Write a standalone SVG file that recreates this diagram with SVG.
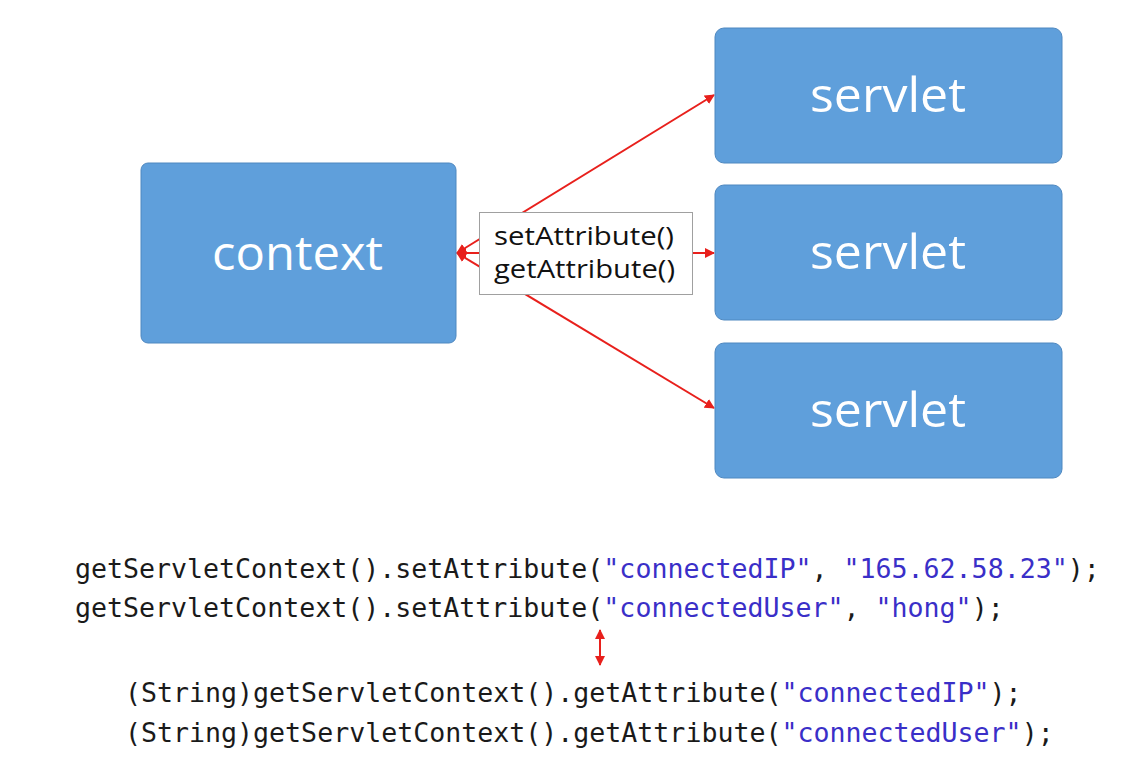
<svg xmlns="http://www.w3.org/2000/svg" width="1124" height="774" viewBox="0 0 1124 774">
<style>
.box{fill:#5f9fdb;stroke:#4f88c0;stroke-width:1}
.nt{font-family:"Open Sans","Noto Sans",sans-serif;font-size:47px;fill:#ffffff}
.lbl{font-family:"Open Sans","Noto Sans",sans-serif;font-size:25px;fill:#111}
.code{font-family:"DejaVu Sans Mono","Liberation Mono",monospace;font-size:26.6px;fill:#1a1a1a}
.s{fill:#3a2fc8}
.ln{stroke:#e8201c;stroke-width:2;fill:none}
</style>
<defs>
<marker id="ah" viewBox="0 0 10 10" refX="9" refY="5" markerWidth="5" markerHeight="5" orient="auto-start-reverse">
<path d="M0,0 L10,5 L0,10 z" fill="#e8201c"/>
</marker>
</defs>
<rect width="1124" height="774" fill="#ffffff"/>
<g id="connectors">
<line class="ln" x1="457" y1="253" x2="714" y2="95" marker-start="url(#ah)" marker-end="url(#ah)"/>
<line class="ln" x1="457" y1="253" x2="714" y2="253" marker-start="url(#ah)" marker-end="url(#ah)"/>
<line class="ln" x1="457" y1="253" x2="714" y2="408" marker-start="url(#ah)" marker-end="url(#ah)"/>
<line class="ln" x1="600" y1="630" x2="600" y2="665" stroke-width="2.5" marker-start="url(#ah)" marker-end="url(#ah)"/>
</g>
<g id="context">
<rect class="box" x="141" y="163" width="315" height="180" rx="7"/>
<text class="nt" x="212" y="270" textLength="171" lengthAdjust="spacingAndGlyphs">context</text>
</g>
<g id="servlet1">
<rect class="box" x="715" y="28" width="347" height="135" rx="9"/>
<text class="nt" x="810" y="112" textLength="156" lengthAdjust="spacingAndGlyphs">servlet</text>
</g>
<g id="servlet2">
<rect class="box" x="715" y="185" width="347" height="135" rx="9"/>
<text class="nt" x="810" y="269" textLength="156" lengthAdjust="spacingAndGlyphs">servlet</text>
</g>
<g id="servlet3">
<rect class="box" x="715" y="343" width="347" height="135" rx="9"/>
<text class="nt" x="810" y="427" textLength="156" lengthAdjust="spacingAndGlyphs">servlet</text>
</g>
<g id="label">
<rect x="479.5" y="212.5" width="213" height="82" fill="#ffffff" stroke="#a0a0a0" stroke-width="1"/>
<text class="lbl" x="494" y="245" textLength="180" lengthAdjust="spacingAndGlyphs">setAttribute()</text>
<text class="lbl" x="494" y="278" textLength="181" lengthAdjust="spacingAndGlyphs">getAttribute()</text>
</g>
<g id="code">
<text class="code" x="75" y="578">getServletContext().setAttribute(<tspan class="s">"connectedIP"</tspan>, <tspan class="s">"165.62.58.23"</tspan>);</text>
<text class="code" x="75" y="617">getServletContext().setAttribute(<tspan class="s">"connectedUser"</tspan>, <tspan class="s">"hong"</tspan>);</text>
<text class="code" x="125" y="702">(String)getServletContext().getAttribute(<tspan class="s">"connectedIP"</tspan>);</text>
<text class="code" x="125" y="742">(String)getServletContext().getAttribute(<tspan class="s">"connectedUser"</tspan>);</text>
</g>
</svg>
